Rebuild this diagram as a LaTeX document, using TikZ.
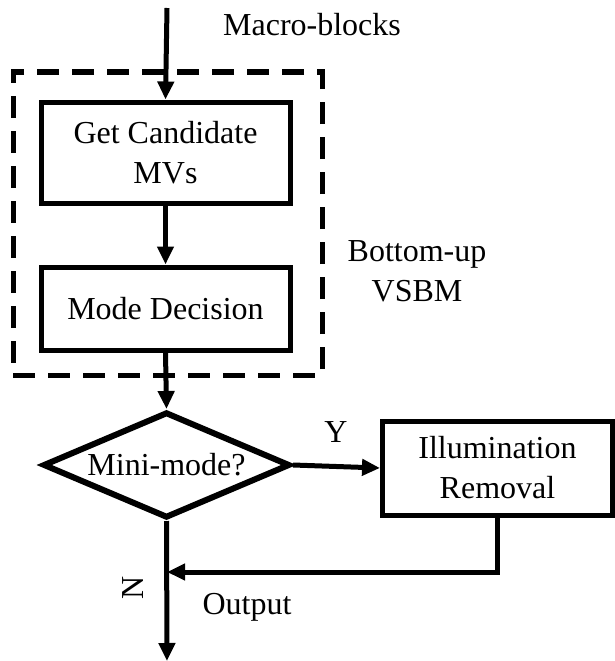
\documentclass[tikz,border=0pt]{standalone}
\usepackage{fontspec}
\setmainfont{Liberation Serif}
\usetikzlibrary{arrows.meta,shapes.geometric}
\begin{document}
\begin{tikzpicture}[x=1pt,y=-1pt,
  font=\fontsize{32}{40}\selectfont,
  stepbox/.style={draw, line width=5pt, inner sep=0pt, align=center},
  flow/.style={line width=5pt, -{Triangle[length=18pt,width=16pt]}},
  lbl/.style={inner sep=0pt, align=center}]
\useasboundingbox (0,0) rectangle (615,661);

% dashed group around the VSBM stages
\node[draw, dash pattern=on 22pt off 13pt, line width=5pt, inner sep=0pt,
      minimum width=309pt, minimum height=303pt] (grp) at (167.5,223.5) {};

% process blocks
\node[stepbox, minimum width=249pt, minimum height=101pt] (cand) at (165.5,152.5)
  {Get Candidate\\MVs};
\node[stepbox, minimum width=249pt, minimum height=83pt] (mode) at (165.5,308.5)
  {Mode Decision};
\node[draw, diamond, line width=6pt, inner sep=0pt,
      minimum width=247pt, minimum height=106pt] (dec) at (166.5,465) {};
\node[lbl] (dectext) at (dec.center) {Mini-mode?};
\node[stepbox, minimum width=230pt, minimum height=94pt] (illum) at (497.5,468)
  {Illumination\\Removal};

% free ends and junction
\coordinate (in) at (167,8);
\coordinate (join) at (167,572);
\coordinate (out) at (167,661);

% text labels
\node[lbl] (macro) at (312,25) {Macro-blocks};
\node[lbl] (vsbm) at (417,271) {Bottom-up\\VSBM};
\node[lbl] (yes) at (336,432) {Y};
\node[lbl, rotate=90] (no) at (133,588) {N};
\node[lbl] (outlbl) at (247,607) {Output};

% connectors
\draw[flow] (in) -- (cand.north);
\draw[flow] (cand.south) -- (mode.north);
\draw[flow] (mode.south) -- (dec.north);
\draw[flow] (dec.east) -- (illum.west);
\draw[flow] (illum.south) -- (illum.south |- join) -- (join);
\draw[flow] (dec.south) -- (out);
\end{tikzpicture}
\end{document}
